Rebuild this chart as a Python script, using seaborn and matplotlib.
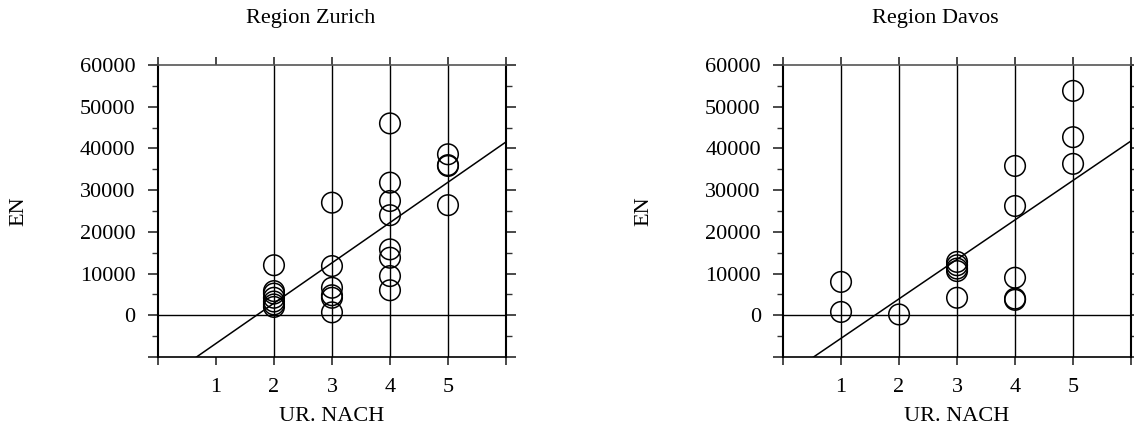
"""Two regional scatter plots of EN against UR. NACH with a least-squares line."""

import matplotlib

matplotlib.use("Agg")
import matplotlib.pyplot as plt
import pandas as pd
import seaborn as sns
from matplotlib.ticker import FixedLocator, FuncFormatter, MultipleLocator

# --- data ------------------------------------------------------------------
zurich_x = [2, 2, 2, 2, 2, 2, 2,
            3, 3, 3, 3, 3, 3,
            4, 4, 4, 4, 4, 4, 4, 4,
            5, 5, 5, 5]
zurich_y = [12000, 5800, 5200, 4200, 3300, 2600, 2000,
            27000, 11800, 6600, 4800, 4200, 700,
            46000, 31800, 27400, 24000, 15800, 13800, 9400, 6000,
            38600, 35800, 36000, 26400]

davos_x = [1, 1,
           2,
           3, 3, 3, 3, 3,
           4, 4, 4, 4, 4,
           5, 5, 5]
davos_y = [8000, 800,
           200,
           12800, 12000, 11200, 10600, 4200,
           35800, 26200, 9000, 4000, 3700,
           53800, 42700, 36300]

regions = ["Region Zurich", "Region Davos"]
x_tick_labels = ["", "1", "2", "3", "4", "5", ""]


def draw_panel(ax, x, y):
    df = pd.DataFrame({"UR. NACH": x, "EN": y})
    ax.set_xlim(0, 6)
    ax.set_ylim(-10000, 60000)

    # reference lines at each observed x level and at zero
    for level in sorted(set(x)):
        ax.axvline(level, color="black", lw=1, zorder=1)
    ax.axhline(0, color="black", lw=1, zorder=1)

    sns.scatterplot(data=df, x="UR. NACH", y="EN", ax=ax, s=220,
                    facecolor="none", edgecolor="black", linewidth=1.1, zorder=3)
    # xlim is already set, so truncate=False spans the full axis
    sns.regplot(data=df, x="UR. NACH", y="EN", ax=ax, scatter=False, ci=None,
                truncate=False, line_kws={"color": "black", "lw": 1.1})

    ax.set_xlim(0, 6)
    ax.set_ylim(-10000, 60000)
    ax.xaxis.set_major_locator(FixedLocator(range(7)))
    ax.set_xticklabels(x_tick_labels)
    ax.yaxis.set_major_locator(MultipleLocator(10000))
    ax.yaxis.set_minor_locator(MultipleLocator(5000))
    ax.yaxis.set_major_formatter(FuncFormatter(lambda v, _: "" if v < 0 else f"{v:.0f}"))

    ax.tick_params(axis="both", which="both", direction="out", colors="#333333",
                   labelcolor="black", labelsize=16)
    ax.tick_params(axis="x", which="major", top=True, bottom=True, length=6, pad=9)
    ax.tick_params(axis="y", which="major", left=True, right=True, length=7, pad=9)
    ax.tick_params(axis="y", which="minor", left=True, right=True, length=4)

    for side in ("left", "right"):
        ax.spines[side].set_color("black")
        ax.spines[side].set_linewidth(1.5)
    for side in ("top", "bottom"):
        ax.spines[side].set_color("#555555")
        ax.spines[side].set_linewidth(1.2)
    ax.spines["bottom"].set_color("black")

    ax.set_xlabel("UR. NACH", fontsize=16, color="black")
    ax.set_ylabel("EN", fontsize=16, color="black")
    ax.xaxis.set_label_coords(0.5, -0.17)
    ax.yaxis.set_label_coords(-0.372, 0.5)
    ax.grid(False)


def main() -> None:
    sns.set_theme(style="ticks")
    plt.rcParams["font.family"] = ["Liberation Serif", "DejaVu Serif"]
    plt.rcParams["text.color"] = "black"
    plt.rcParams["axes.labelcolor"] = "black"

    fig = plt.figure(figsize=(11.34, 4.28), dpi=100)
    ax_left = fig.add_axes([0.1393, 0.1659, 0.3069, 0.6822])
    ax_right = fig.add_axes([0.6905, 0.1659, 0.3069, 0.6822])

    draw_panel(ax_left, zurich_x, zurich_y)
    draw_panel(ax_right, davos_x, davos_y)

    for i, xc in enumerate([311, 935]):
        fig.text(xc / 1134, 1 - 19 / 428, regions[i], ha="center", va="center",
                 fontsize=16, color="black")

    fig.savefig("out.png", dpi=100)
    plt.close(fig)


if __name__ == "__main__":
    main()
